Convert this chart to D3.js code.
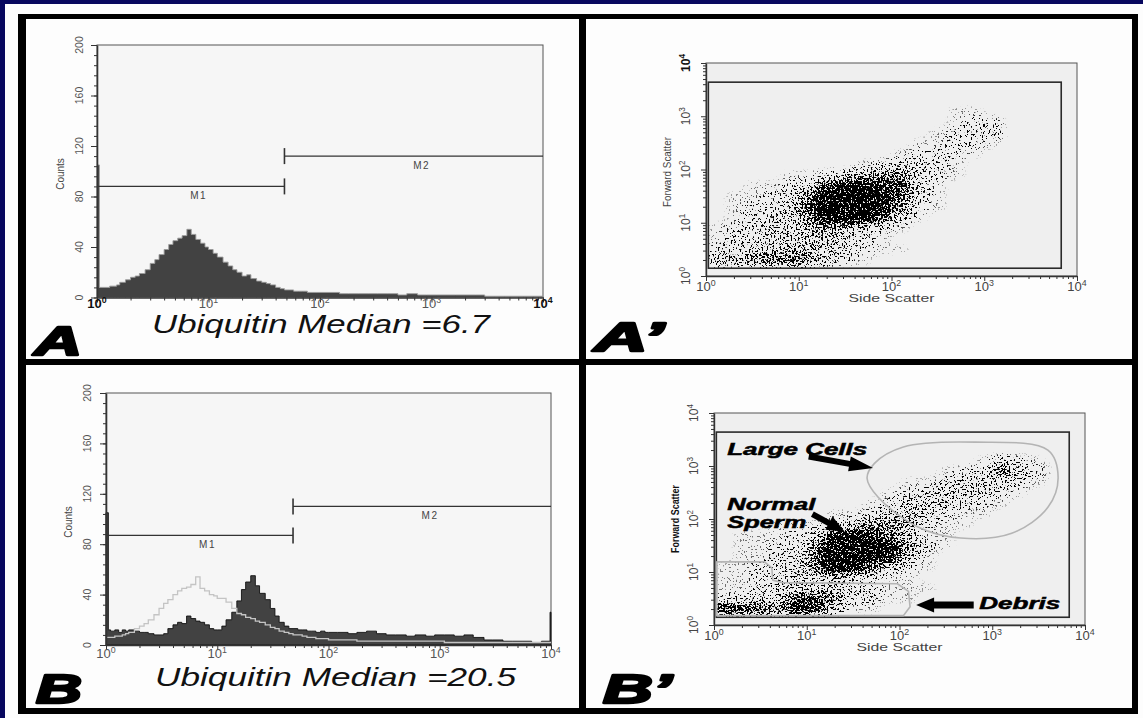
<!DOCTYPE html>
<html>
<head>
<meta charset="utf-8">
<script src="https://cdn.jsdelivr.net/npm/d3@7"></script>
<style>
  body { margin: 0; background: #07075e; }
  svg { display: block; }
  text { font-family: "Liberation Sans", Arial, Helvetica, sans-serif; }
</style>
</head>
<body>
<svg id="fig"></svg>
<script>
const W = 1143, H = 718;

// ---- histogram data (panels A and B) ----
// channel intensities (log scale) and counts per channel
const bins = [1, 1.05, 1.1, 1.2, 1.3, 1.4, 1.5, 1.6, 1.8, 2.0, 2.2, 2.4, 2.7, 3.0, 3.3, 3.6, 4.0, 4.4, 4.8, 5.3,
  5.8, 6.4, 7.0, 7.7, 8.5, 9.3, 10, 11, 12, 13.5, 15, 16.5, 18, 20, 22, 24, 27, 30, 33, 36,
  40, 44, 48, 53, 58, 64, 70, 77, 85, 93, 100, 120, 150, 180, 220, 270, 330, 400, 500, 600,
  750, 900, 1100, 1350, 1650, 2000, 2500, 3000, 3700, 4500, 5500, 6700, 8200, 9800, 10000];
const countsA = [105, 8, 8, 8, 9, 9, 10, 12, 14, 16, 17, 19, 22, 27, 30, 34, 38, 42, 45, 47,
  49, 54, 50, 46, 43, 40, 38, 35, 32, 28, 25, 22, 20, 17, 18, 15, 13, 12, 11, 10,
  8, 7, 6, 6, 5, 5, 5, 4, 4, 4, 4, 4, 3, 3, 3, 3, 3, 3, 2, 3,
  2, 2, 2, 2, 2, 2, 2, 1, 1, 1, 1, 1, 1, 1, 1];
const countsB = [105, 12, 11, 12, 10, 12, 11, 12, 11, 10, 10, 9, 8, 8, 9, 13, 16, 18, 17, 23,
  21, 19, 18, 16, 13, 12, 12, 15, 20, 26, 35, 44, 50, 55, 47, 41, 36, 29, 23, 18,
  15, 13, 13, 12, 12, 11, 11, 10, 11, 10, 10, 10, 9, 10, 11, 9, 8, 8, 7, 8,
  7, 8, 8, 7, 8, 6, 4, 4, 3, 3, 3, 2, 3, 26, 26];
const countsControl = [6, 6, 6, 7, 7, 8, 9, 10, 13, 15, 17, 20, 24, 29, 33, 36, 40, 43, 45, 46,
  48, 54, 45, 43, 40, 39, 37, 37, 34, 29, 25, 24, 22, 21, 19, 18, 16, 14, 13, 11,
  10, 9, 8, 8, 7, 6, 6, 5, 5, 5, 4, 4, 4, 3, 3, 3, 3, 3, 3, 3,
  3, 3, 2, 2, 2, 2, 2, 2, 2, 2, 2, 2, 2, 2, 2];
const countTicks = [0, 40, 80, 120, 160, 200];
const decades = [1, 10, 100, 1000, 10000];
const markerNames = ["M1", "M2"];
const markerFrom = [1, 48];
const markerTo = [48, 10000];
const markerLevelA = [88, 112];
const markerLevelB = [87, 110];

// ---- scatter data (panels A' and B') ----
// event density, 0.2-decade cells,
// rows from Forward Scatter 10^4 (top) down to 10^0, columns from Side Scatter 10^0 to 10^4
const gridStep = 0.2;
const densityA = [
  "00000000000000000000",
  "00000000000000000000",
  "00000000000000000000",
  "00000000000000000000",
  "00000000000001100000",
  "00000000000001220000",
  "00000000000012230000",
  "00000000000112210000",
  "00000000001222100000",
  "00000000123321000000",
  "00001123455321000000",
  "00112368876310000000",
  "01123599986310000000",
  "01223699975210000000",
  "01233589864100000000",
  "12333454321000000000",
  "12233343210000000000",
  "22334443211000000000",
  "44566532100000000000",
  "00000000000000000000"
];
const densityB = [
  "00000000000000000000",
  "00000000000000000000",
  "00000000000000000000",
  "00000000000000000000",
  "00000000000000132100",
  "00000000000012263200",
  "00000000001123332100",
  "00000000012233321000",
  "00000000123332210000",
  "00000011234321100000",
  "00011123554211000000",
  "01112377753110000000",
  "01122599975210000000",
  "01122699874100000000",
  "11223598642100000000",
  "11223343211000000000",
  "11233332211100000000",
  "22336653211000000000",
  "87658731100000000000",
  "00000000000000000000"
];
const gateSS = [1.06, 6760];
const gateFS = [1.4, 4365];
const largeCellGate = [[44.7, 589], [53.7, 1122], [110, 2291], [661, 2818], [3981, 1995], [5129, 617],
  [3981, 166], [1622, 53.7], [457, 43.7], [158, 70.8], [58.9, 257]];
const debrisGate = [[1.07, 15.5], [3.5, 15.5], [4.2, 12], [4.3, 7], [5.5, 6.3], [95, 6.0],
  [125, 4.3], [130, 2.2], [110, 1.5], [1.07, 1.5]];
const annoLabels = ["Large Cells", "Normal", "Sperm", "Debris"];
const annoSS = [1.39, 1.39, 1.39, 724];
const annoFS = [1585, 147, 67, 2.0];
const arrowFrom = [[10.5, 1514], [11.5, 123], [631, 2.38]];
const arrowTo = [[51.9, 912], [25.7, 57.5], [151, 2.38]];

const levelAlpha = [0, 0.1, 0.2, 0.31, 0.43, 0.56, 0.69, 0.81, 0.91, 1];

const svg = d3.select("#fig").attr("width", W).attr("height", H);
const defs = svg.append("defs");

svg.append("rect").attr("width", W).attr("height", H).attr("fill", "#07075e");
svg.append("rect").attr("x", 5).attr("y", 4).attr("width", W - 5).attr("height", H - 4).attr("fill", "#fdfdfd");

// black frame and dividers
const frame = svg.append("g").attr("fill", "#000");
frame.append("rect").attr("x", 18).attr("y", 14).attr("width", 8).attr("height", 700);
frame.append("rect").attr("x", 18).attr("y", 14).attr("width", 1120).attr("height", 5);
frame.append("rect").attr("x", 1132).attr("y", 14).attr("width", 6).attr("height", 700);
frame.append("rect").attr("x", 18).attr("y", 708).attr("width", 1120).attr("height", 6);
frame.append("rect").attr("x", 579).attr("y", 14).attr("width", 7).attr("height", 700);
frame.append("rect").attr("x", 18).attr("y", 359).attr("width", 1120).attr("height", 6);

const minorLog = [];
decades.slice(0, 4).forEach(d => { for (let k = 2; k < 10; k++) minorLog.push(k * d); });

function pow10(sel, k, size) {
  sel.append("tspan").text("10");
  sel.append("tspan").attr("font-size", size * 0.68).attr("dy", -size * 0.42).text(k);
}

function panelLetter(txt, x, y, w) {
  svg.append("text").attr("x", x).attr("y", y)
    .attr("font-size", 40).attr("font-weight", "bold").attr("font-style", "italic")
    .attr("textLength", w).attr("lengthAdjust", "spacingAndGlyphs")
    .attr("fill", "#000").attr("stroke", "#000").attr("stroke-width", 2.4)
    .attr("stroke-linejoin", "round")
    .text(txt);
}

function drawHist(p) {
  const x = d3.scaleLog().domain([1, 1e4]).range(p.xr);
  const y = d3.scaleLinear().domain([0, 200]).range(p.yr);
  const g = svg.append("g");

  g.append("rect")
    .attr("x", p.xr[0]).attr("y", p.yr[1])
    .attr("width", p.xr[1] - p.xr[0]).attr("height", p.yr[0] - p.yr[1])
    .attr("fill", "#f6f6f6").attr("stroke", "#555").attr("stroke-width", 1);

  const pts = bins.map((b, i) => [b, p.counts[i]]);
  g.append("path").datum(pts)
    .attr("d", d3.area().x(d => x(d[0])).y0(y(0)).y1(d => y(d[1])).curve(d3.curveStepAfter))
    .attr("fill", "#424242").attr("stroke", p.edge).attr("stroke-width", 0.9);

  if (p.control) {
    const cp = bins.map((b, i) => [b, p.control[i]]);
    g.append("path").datum(cp)
      .attr("d", d3.line().x(d => x(d[0])).y(d => y(d[1])).curve(d3.curveStepAfter))
      .attr("fill", "none").attr("stroke", "#c4c4c4").attr("stroke-width", 1.3);
  }

  // y axis
  const ya = g.append("g").attr("transform", `translate(${p.xr[0]},0)`).attr("color", "#333");
  ya.append("g").call(d3.axisLeft(y).tickValues(d3.range(0, 201, 8)).tickSize(3).tickFormat(""))
    .call(s => s.select(".domain").remove());
  ya.append("g").call(d3.axisLeft(y).tickValues(countTicks).tickSize(6).tickSizeOuter(0).tickFormat(""))
    .call(s => s.select(".domain").attr("stroke-width", 1.6));

  // x axis
  const xa = g.append("g").attr("transform", `translate(0,${p.yr[0]})`).attr("color", "#333");
  xa.append("g").call(d3.axisBottom(x).tickValues(minorLog).tickSize(3).tickFormat(""))
    .call(s => s.select(".domain").remove());
  xa.append("g").call(d3.axisBottom(x).tickValues(decades).tickSize(5).tickSizeOuter(0).tickFormat(""))
    .call(s => s.select(".domain").attr("stroke-width", 1.4));

  g.selectAll(".ylab").data(countTicks).join("text")
    .attr("transform", d => `translate(${p.yLabX},${y(d)}) rotate(-90)`)
    .attr("text-anchor", "middle").attr("font-size", 10.5).attr("fill", "#555")
    .text(d => d);

  decades.forEach((d, i) => {
    const bold = p.boldEnds && (i === 0 || i === decades.length - 1);
    const t = g.append("text").attr("x", x(d)).attr("y", p.xLabY)
      .attr("text-anchor", "middle").attr("font-size", 13)
      .attr("font-weight", bold ? "bold" : "normal")
      .attr("fill", bold ? "#111" : "#555");
    pow10(t, i, 13);
  });

  g.append("text")
    .attr("transform", `translate(${p.countsX},${p.countsY}) rotate(-90)`)
    .attr("text-anchor", "middle").attr("font-size", 10).attr("fill", "#444")
    .text("Counts");

  markerNames.forEach((m, i) => {
    const yy = y(p.levels[i]);
    g.append("line").attr("x1", x(markerFrom[i])).attr("x2", x(markerTo[i]))
      .attr("y1", yy).attr("y2", yy).attr("stroke", "#333").attr("stroke-width", 1.3);
    const edge = i === 0 ? markerTo[i] : markerFrom[i];
    g.append("line").attr("x1", x(edge)).attr("x2", x(edge))
      .attr("y1", yy - 8).attr("y2", yy + 8).attr("stroke", "#333").attr("stroke-width", 1.6);
    g.append("text")
      .attr("x", (x(markerFrom[i]) + x(markerTo[i])) / 2 + 8).attr("y", yy + 13)
      .attr("text-anchor", "middle").attr("font-size", 10).attr("letter-spacing", 1.5)
      .attr("fill", "#444").text(m);
  });

  g.append("text").attr("x", p.titleX).attr("y", p.titleY)
    .attr("font-size", 26).attr("font-style", "italic").attr("fill", "#111")
    .attr("textLength", p.titleW).attr("lengthAdjust", "spacingAndGlyphs")
    .text(p.title);
}

function stippleFilter(id, box, seed) {
  const f = defs.append("filter").attr("id", id)
    .attr("filterUnits", "userSpaceOnUse")
    .attr("x", box[0]).attr("y", box[1]).attr("width", box[2]).attr("height", box[3])
    .attr("color-interpolation-filters", "sRGB");
  f.append("feGaussianBlur").attr("in", "SourceGraphic").attr("stdDeviation", "6 3.5").attr("result", "blur");
  f.append("feComponentTransfer").attr("in", "blur").attr("result", "dens")
    .append("feFuncA").attr("type", "table").attr("tableValues", "0 0.12 0.26 0.42 0.6 0.8 1 1");
  f.append("feTurbulence").attr("type", "fractalNoise").attr("baseFrequency", 0.55)
    .attr("numOctaves", 2).attr("seed", seed).attr("result", "noise");
  f.append("feColorMatrix").attr("in", "noise").attr("type", "matrix")
    .attr("values", "0 0 0 0 0  0 0 0 0 0  0 0 0 0 0  3 0 0 0 -1").attr("result", "n");
  f.append("feComposite").attr("in", "dens").attr("in2", "n").attr("operator", "arithmetic")
    .attr("k1", 0).attr("k2", 10).attr("k3", -10).attr("k4", -0.3);
}

function arrowPath(x0, y0, x1, y1, sw, hw, hl) {
  const dx = x1 - x0, dy = y1 - y0, L = Math.hypot(dx, dy);
  const ux = dx / L, uy = dy / L, nx = -uy, ny = ux;
  const bx = x1 - ux * hl, by = y1 - uy * hl;
  const pts = [
    [x0 + nx * sw / 2, y0 + ny * sw / 2], [bx + nx * sw / 2, by + ny * sw / 2],
    [bx + nx * hw / 2, by + ny * hw / 2], [x1, y1],
    [bx - nx * hw / 2, by - ny * hw / 2], [bx - nx * sw / 2, by - ny * sw / 2],
    [x0 - nx * sw / 2, y0 - ny * sw / 2]
  ];
  return "M" + pts.map(q => q.join(",")).join("L") + "Z";
}

function drawScatter(p) {
  const x = d3.scaleLog().domain([1, 1e4]).range(p.xr);
  const y = d3.scaleLog().domain([1, 1e4]).range(p.yr);
  const g = svg.append("g");

  g.append("rect")
    .attr("x", p.xr[0]).attr("y", p.yr[1])
    .attr("width", p.xr[1] - p.xr[0]).attr("height", p.yr[0] - p.yr[1])
    .attr("fill", "#efefef").attr("stroke", "#555").attr("stroke-width", 1);

  const gx0 = x(gateSS[0]), gx1 = x(gateSS[1]), gy0 = y(gateFS[1]), gy1 = y(gateFS[0]);
  defs.append("clipPath").attr("id", p.id + "clip")
    .append("rect").attr("x", gx0).attr("y", gy0).attr("width", gx1 - gx0).attr("height", gy1 - gy0);
  stippleFilter(p.id + "st", [p.xr[0] - 10, p.yr[1] - 10, p.xr[1] - p.xr[0] + 20, p.yr[0] - p.yr[1] + 20], p.seed);

  const cells = [];
  p.grid.forEach((row, r) => [...row].forEach((ch, c) => {
    if (ch !== "0") cells.push({ c, r, lv: +ch });
  }));
  const lo = c => 10 ** (c * gridStep);
  const hi = r => 10 ** (4 - r * gridStep);
  g.append("g").attr("clip-path", `url(#${p.id}clip)`)
    .append("g").attr("filter", `url(#${p.id}st)`)
    .selectAll("rect").data(cells).join("rect")
    .attr("x", d => x(lo(d.c)))
    .attr("width", d => x(lo(d.c + 1)) - x(lo(d.c)))
    .attr("y", d => y(hi(d.r)))
    .attr("height", d => y(hi(d.r + 1)) - y(hi(d.r)))
    .attr("fill", "#000").attr("fill-opacity", d => levelAlpha[d.lv]);

  g.append("rect").attr("x", gx0).attr("y", gy0).attr("width", gx1 - gx0).attr("height", gy1 - gy0)
    .attr("fill", "none").attr("stroke", "#2a2a2a").attr("stroke-width", 1.6);

  // axes
  const ya = g.append("g").attr("transform", `translate(${p.xr[0]},0)`).attr("color", "#333");
  ya.append("g").call(d3.axisLeft(y).tickValues(minorLog).tickSize(3).tickFormat(""))
    .call(s => s.select(".domain").remove());
  ya.append("g").call(d3.axisLeft(y).tickValues(decades).tickSize(5).tickSizeOuter(0).tickFormat(""))
    .call(s => s.select(".domain").attr("stroke-width", 1.4));
  const xa = g.append("g").attr("transform", `translate(0,${p.yr[0]})`).attr("color", "#333");
  xa.append("g").call(d3.axisBottom(x).tickValues(minorLog).tickSize(3).tickFormat(""))
    .call(s => s.select(".domain").remove());
  xa.append("g").call(d3.axisBottom(x).tickValues(decades).tickSize(5).tickSizeOuter(0).tickFormat(""))
    .call(s => s.select(".domain").attr("stroke-width", 1.4));

  decades.forEach((d, i) => {
    const t = g.append("text").attr("x", x(d)).attr("y", p.yr[0] + 15)
      .attr("text-anchor", "middle").attr("font-size", 13).attr("fill", "#444");
    pow10(t, i, 13);
    const v = g.append("text")
      .attr("transform", `translate(${p.xr[0] - 16},${y(d)}) rotate(-90)`)
      .attr("text-anchor", "middle").attr("font-size", 12)
      .attr("font-weight", i === 4 && p.boldTop ? "bold" : "normal")
      .attr("fill", i === 4 && p.boldTop ? "#111" : "#444");
    pow10(v, i, 12);
  });

  g.append("text").attr("x", (p.xr[0] + p.xr[1]) / 2).attr("y", p.yr[0] + 26)
    .attr("text-anchor", "middle").attr("font-size", 11.5).attr("fill", "#444")
    .attr("textLength", 86).attr("lengthAdjust", "spacingAndGlyphs")
    .text("Side Scatter");
  g.append("text")
    .attr("transform", `translate(${p.xr[0] - 35},${p.fsY}) rotate(-90)`)
    .attr("text-anchor", "middle").attr("font-size", 11)
    .attr("font-weight", p.fsBold ? "bold" : "normal").attr("fill", p.fsBold ? "#111" : "#444")
    .attr("textLength", p.fsLen).attr("lengthAdjust", "spacingAndGlyphs")
    .text("Forward Scatter");

  if (p.annotate) {
    g.append("path")
      .attr("d", d3.line().x(d => x(d[0])).y(d => y(d[1])).curve(d3.curveCatmullRomClosed)(largeCellGate))
      .attr("fill", "none").attr("stroke", "#b4b4b4").attr("stroke-width", 1.6);
    g.append("path")
      .attr("d", d3.line().x(d => x(d[0])).y(d => y(d[1])).curve(d3.curveLinearClosed)(debrisGate))
      .attr("fill", "none").attr("stroke", "#b4b4b4").attr("stroke-width", 1.6)
      .attr("stroke-linejoin", "round");

    const widths = [140, 88, 79, 81];
    annoLabels.forEach((t, i) => {
      g.append("text").attr("x", x(annoSS[i])).attr("y", y(annoFS[i]))
        .attr("font-size", 16.5).attr("font-weight", "bold").attr("font-style", "italic")
        .attr("fill", "#000").attr("stroke", "#000").attr("stroke-width", 0.5)
        .attr("textLength", widths[i]).attr("lengthAdjust", "spacingAndGlyphs")
        .text(t);
    });
    const heads = [[6, 15, 24], [6, 15, 18], [7, 15, 18]];
    arrowFrom.forEach((a, i) => {
      const b = arrowTo[i], h = heads[i];
      g.append("path")
        .attr("d", arrowPath(x(a[0]), y(a[1]), x(b[0]), y(b[1]), h[0], h[1], h[2]))
        .attr("fill", "#000");
    });
  }
}

drawHist({
  xr: [97, 543], yr: [297.5, 45], counts: countsA, edge: "#9a9a9a",
  levels: markerLevelA, yLabX: 83, xLabY: 308, countsX: 64, countsY: 174, boldEnds: true,
  title: "Ubiquitin Median =6.7", titleX: 152, titleY: 333, titleW: 338
});
drawHist({
  xr: [106, 551], yr: [645, 393], counts: countsB, control: countsControl, edge: "#111",
  levels: markerLevelB, yLabX: 91, xLabY: 658, countsX: 72, countsY: 522, boldEnds: false,
  title: "Ubiquitin Median =20.5", titleX: 155, titleY: 686, titleW: 361
});
drawScatter({
  id: "ap", seed: 3, xr: [706, 1077], yr: [276, 63], grid: densityA,
  fsY: 172, fsLen: 70, fsBold: false, boldTop: true, annotate: false
});
drawScatter({
  id: "bp", seed: 11, xr: [714, 1085], yr: [625, 413], grid: densityB,
  fsY: 519, fsLen: 68, fsBold: true, boldTop: false, annotate: true
});

panelLetter("A", 34, 355, 48);
panelLetter("B", 36, 703, 46);
panelLetter("A\u2019", 594, 351, 70);
panelLetter("B\u2019", 603, 703, 69);
</script>
</body>
</html>
